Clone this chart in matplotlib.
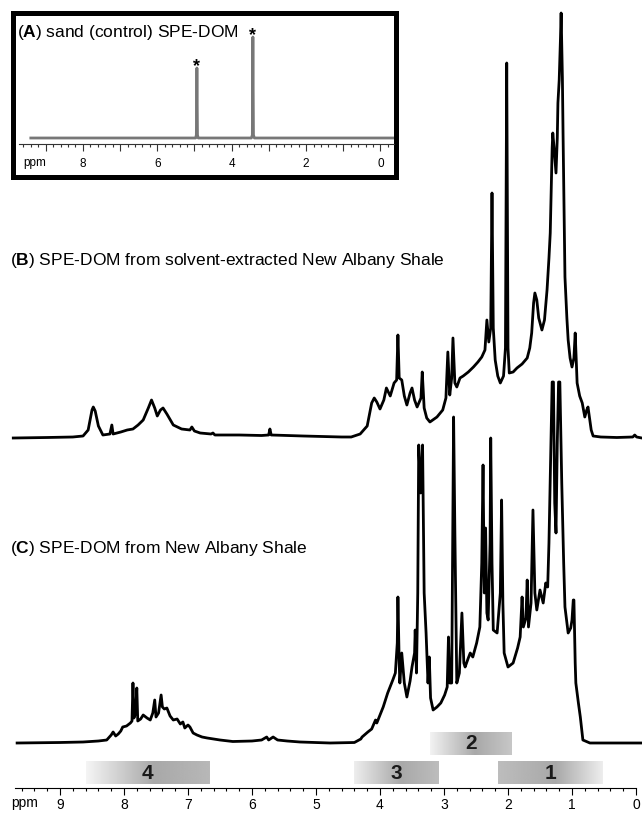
"""1H NMR spectra of SPE-DOM from New Albany Shale."""
import matplotlib
matplotlib.use('Agg')
import matplotlib.pyplot as plt
import numpy as np
from matplotlib.ticker import FixedLocator, FuncFormatter

# spectrum B: SPE-DOM from solvent-extracted New Albany Shale (ppm, intensity)
b_ppm = [9.73, 9.2, 8.8, 8.64, 8.56, 8.50, 8.48, 8.45, 8.40, 8.33, 8.22, 8.19,
         8.17, 8.05, 7.95, 7.86, 7.78, 7.70, 7.62, 7.57, 7.52, 7.48, 7.43, 7.39,
         7.33, 7.23, 7.10, 6.97, 6.94, 6.90, 6.81, 6.64, 6.61, 6.58, 6.2, 5.85,
         5.74, 5.72, 5.70, 5.2, 4.6, 4.45, 4.31, 4.20, 4.13, 4.09, 4.05, 4.00,
         3.94, 3.90, 3.84, 3.78, 3.74, 3.72, 3.70, 3.66, 3.62, 3.58, 3.53, 3.50,
         3.46, 3.42, 3.36, 3.34, 3.31, 3.27, 3.22, 3.11, 3.02, 2.97, 2.94, 2.91,
         2.88, 2.86, 2.83, 2.80, 2.75, 2.70, 2.62, 2.54, 2.47, 2.41, 2.36, 2.33,
         2.30, 2.27, 2.25, 2.23, 2.20, 2.16, 2.12, 2.07, 2.04, 2.02, 2.00, 1.98,
         1.92, 1.86, 1.78, 1.70, 1.66, 1.63, 1.60, 1.58, 1.55, 1.52, 1.47, 1.43,
         1.39, 1.36, 1.34, 1.31, 1.30, 1.28, 1.25, 1.23, 1.22, 1.20, 1.18, 1.17,
         1.15, 1.14, 1.12, 1.11, 1.08, 1.06, 1.03, 1.00, 0.97, 0.95, 0.93, 0.92,
         0.88, 0.84, 0.80, 0.77, 0.75, 0.73, 0.70, 0.67, 0.55, 0.3, 0.05, 0.02,
         -0.01, -0.09]
b_int = [0, 0.5, 1, 2, 8, 28, 31, 27, 12, 3, 4, 13,
         4, 6, 8, 9, 13, 18, 30, 38, 30, 22, 28, 30,
         24, 13, 9, 8, 11, 7, 5, 4, 5, 3, 3, 2.5,
         3, 9, 3, 2, 1, 1, 4, 12, 35, 40, 36, 29,
         38, 50, 42, 55, 58, 103, 60, 58, 42, 33, 45, 50,
         38, 31, 40, 66, 30, 20, 16, 21, 28, 40, 86, 43,
         60, 100, 55, 51, 60, 62, 66, 71, 76, 81, 88, 118,
         96, 110, 245, 110, 78, 62, 55, 62, 90, 375, 90, 65,
         66, 70, 74, 80, 90, 105, 135, 145, 138, 120, 108, 118,
         148, 180, 205, 290, 305, 290, 265, 300, 335, 358, 400, 425,
         360, 305, 210, 161, 120, 98, 80, 71, 80, 105, 70, 55,
         42, 35, 21, 28, 31, 22, 8, 2, 1, 0.5, 1, 3,
         1, 0]

# spectrum C: SPE-DOM from New Albany Shale (ppm, intensity)
c_ppm = [9.67, 9.0, 8.64, 8.40, 8.27, 8.20, 8.17, 8.13, 8.09, 8.05, 8.02, 7.96,
         7.90, 7.875, 7.86, 7.845, 7.82, 7.80, 7.785, 7.74, 7.70, 7.64, 7.59, 7.55,
         7.52, 7.50, 7.46, 7.42, 7.40, 7.37, 7.33, 7.28, 7.23, 7.17, 7.12, 7.08,
         7.05, 7.00, 6.97, 6.92, 6.86, 6.78, 6.70, 6.50, 6.30, 6.00, 5.85, 5.77,
         5.74, 5.67, 5.60, 5.45, 5.25, 4.78, 4.40, 4.30, 4.28, 4.19, 4.13, 4.07,
         4.05, 3.95, 3.88, 3.80, 3.76, 3.73, 3.72, 3.70, 3.69, 3.66, 3.62, 3.58,
         3.53, 3.50, 3.46, 3.45, 3.43, 3.41, 3.395, 3.365, 3.335, 3.31, 3.28, 3.25,
         3.23, 3.21, 3.17, 3.11, 3.05, 2.99, 2.95, 2.93, 2.91, 2.88, 2.865, 2.85,
         2.83, 2.80, 2.76, 2.72, 2.69, 2.67, 2.62, 2.59, 2.55, 2.49, 2.44, 2.41,
         2.39, 2.37, 2.35, 2.33, 2.31, 2.28, 2.27, 2.25, 2.23, 2.17, 2.12, 2.10,
         2.08, 2.06, 2.00, 1.92, 1.85, 1.81, 1.78, 1.76, 1.72, 1.70, 1.68, 1.64,
         1.61, 1.58, 1.55, 1.50, 1.45, 1.41, 1.38, 1.36, 1.34, 1.31, 1.29, 1.27,
         1.25, 1.23, 1.21, 1.19, 1.16, 1.13, 1.11, 1.06, 1.02, 1.00, 0.98, 0.97,
         0.95, 0.94, 0.90, 0.87, 0.83, 0.72, -0.09]
c_int = [0, 0.5, 1, 2, 3, 8, 11, 7, 9, 12, 16, 17,
         20, 22, 60, 25, 30, 55, 22, 24, 28, 25, 23, 30,
         43, 26, 30, 48, 36, 34, 35, 27, 23, 24, 19, 21,
         15, 18, 16, 10, 8, 6, 5, 3, 1.5, 2, 3, 6,
         3, 6, 3, 2, 1, 0, 0.5, 4, 6, 11, 14, 23,
         20, 36, 50, 63, 70, 100, 146, 80, 60, 90, 60, 46,
         62, 76, 90, 113, 70, 150, 298, 250, 298, 150, 110, 60,
         86, 45, 33, 36, 40, 48, 56, 106, 60, 60, 200, 326,
         210, 60, 70, 130, 80, 76, 85, 90, 86, 100, 116, 180,
         278, 150, 215, 130, 123, 200, 305, 180, 113, 110, 150, 243,
         140, 90, 76, 80, 95, 106, 146, 116, 125, 163, 116, 140,
         233, 150, 133, 153, 140, 160, 156, 200, 263, 361, 361, 240,
         210, 300, 361, 361, 260, 180, 136, 110, 115, 123, 143, 143,
         80, 60, 40, 26, 3, 0, 0]

# spectrum A: sand (control) SPE-DOM, two solvent peaks
a_ppm = [9.4, 4.97, 4.95, 4.935, 4.92, 4.90, 3.47, 3.445, 3.43, 3.415, 3.39, -0.35]
a_int = [0, 0, 3, 70, 3, 0, 0, 3, 101, 3, 0, 0]
a_marked = [4.935, 3.43]

# integration regions
region_labels = ['1', '2', '3', '4']
region_start = [2.16, 3.22, 4.40, 8.60]
region_end = [0.52, 1.94, 3.08, 6.67]

W, H = 642, 813
NARROW = ['Liberation Sans Narrow', 'Liberation Sans', 'DejaVu Sans']
plt.rcParams['font.family'] = ['Liberation Sans', 'DejaVu Sans']
plt.rcParams['mathtext.fontset'] = 'custom'
plt.rcParams['mathtext.bf'] = 'Liberation Sans:bold'
plt.rcParams['mathtext.rm'] = 'Liberation Sans'


def rect(x0, y0, x1, y1):
    """Pixel box (top-left origin) to figure fraction."""
    return [x0 / W, 1 - y1 / H, (x1 - x0) / W, (y1 - y0) / H]


def minor_ticks(lo, hi):
    return [round(v, 1) for v in np.arange(lo, hi + 0.01, 0.2)]


fig = plt.figure(figsize=(W / 100, H / 100), dpi=100)

# main panel (B and C) with ppm axis at the bottom
ax = fig.add_axes(rect(0, 0, W, 788))
ax.plot(c_ppm, np.array(c_int) + 45, color='black', lw=2.0, solid_joinstyle='round')
ax.plot(b_ppm, np.array(b_int) + 350, color='black', lw=2.0, solid_joinstyle='round')

shades = {'1': (0.74, 0.66, 0.93), '2': (0.95, 0.66, 0.78),
          '3': (0.93, 0.66, 0.74), '4': (0.96, 0.66, 0.72)}
rows = {'1': (4, 26), '2': (33, 56), '3': (4, 26), '4': (4, 26)}
for lab, p0, p1 in zip(region_labels, region_start, region_end):
    g = np.interp(np.linspace(0, 1, 256), [0, 0.55, 1], shades[lab])
    y0, y1 = rows[lab]
    ax.imshow(g[None, :], cmap='gray', vmin=0, vmax=1, aspect='auto',
              extent=[p0, p1, y0, y1], interpolation='bilinear')
    ax.text((p0 + p1) / 2, (y0 + y1) / 2, lab, ha='center', va='center',
            fontsize=15, fontweight='bold', color='#1a1a1a')

ax.set_xlim(9.9375, -0.09375)
ax.set_ylim(0, 788)
for s in ['top', 'left', 'right']:
    ax.spines[s].set_visible(False)
ax.spines['bottom'].set_bounds(9.7, 0)
ax.spines['bottom'].set_linewidth(0.8)
ax.set_yticks([])
ax.xaxis.set_major_locator(FixedLocator(range(0, 10)))
ax.xaxis.set_minor_locator(FixedLocator(minor_ticks(0, 9.6)))
ax.xaxis.set_major_formatter(FuncFormatter(lambda v, p: '%d' % v))
ax.tick_params(axis='x', which='major', direction='out', length=5, width=0.8, pad=2)
ax.tick_params(axis='x', which='minor', direction='out', length=2.5, width=0.8)
for t in ax.get_xticklabels():
    t.set_family(NARROW)
    t.set_fontsize(10)
ax.annotate('ppm', xy=(9.56, 0), xycoords=('data', 'axes fraction'),
            xytext=(0, -11), textcoords='offset points', ha='center', va='center',
            fontsize=10, family=NARROW)

ax.text(10 / W, 1 - 261 / H, r'($\mathbf{B}$) SPE-DOM from solvent-extracted New Albany Shale',
        transform=fig.transFigure, ha='left', va='center', fontsize=12.5)
ax.text(10 / W, 1 - 549 / H, r'($\mathbf{C}$) SPE-DOM from New Albany Shale',
        transform=fig.transFigure, ha='left', va='center', fontsize=12.5)

# inset A
box = fig.add_axes(rect(12.5, 12.5, 396.5, 176.5))
box.set_xticks([])
box.set_yticks([])
box.set_facecolor('white')
for s in box.spines.values():
    s.set_linewidth(3.6)

axa = fig.add_axes(rect(15, 15, 394, 144))
axa.patch.set_alpha(0)
axa.plot(a_ppm, np.array(a_int) + 6, color='#777777', lw=2.0)
axa.set_xlim(9.825, -0.363)
axa.set_ylim(0, 129)
for p in a_marked:
    top = a_int[a_ppm.index(p)] + 6
    axa.text(p, top + 1, '*', ha='center', va='center', fontsize=13, fontweight='bold')
for s in ['top', 'left', 'right']:
    axa.spines[s].set_visible(False)
axa.spines['bottom'].set_bounds(9.72, -0.36)
axa.spines['bottom'].set_linewidth(0.8)
axa.spines['bottom'].set_color('#333333')
axa.set_yticks([])
axa.xaxis.set_major_locator(FixedLocator(range(0, 10)))
axa.xaxis.set_minor_locator(FixedLocator(minor_ticks(-0.2, 9.6)))
axa.xaxis.set_major_formatter(FuncFormatter(lambda v, p: '%d' % v if v % 2 == 0 else ''))
axa.tick_params(axis='x', which='major', direction='out', length=5, width=0.8,
                pad=5, color='#333333')
axa.tick_params(axis='x', which='minor', direction='out', length=2.2, width=0.8,
                color='#333333')
for t in axa.get_xticklabels():
    t.set_family(NARROW)
    t.set_fontsize(8.5)
axa.annotate('ppm', xy=(9.29, 0), xycoords=('data', 'axes fraction'),
             xytext=(0, -13.5), textcoords='offset points', ha='center', va='center',
             fontsize=8.5, family=NARROW)
axa.text(17 / W, 1 - 32 / H, r'($\mathbf{A}$) sand (control) SPE-DOM',
         transform=fig.transFigure, ha='left', va='center', fontsize=12.5)

fig.savefig('out.png', dpi=100)
